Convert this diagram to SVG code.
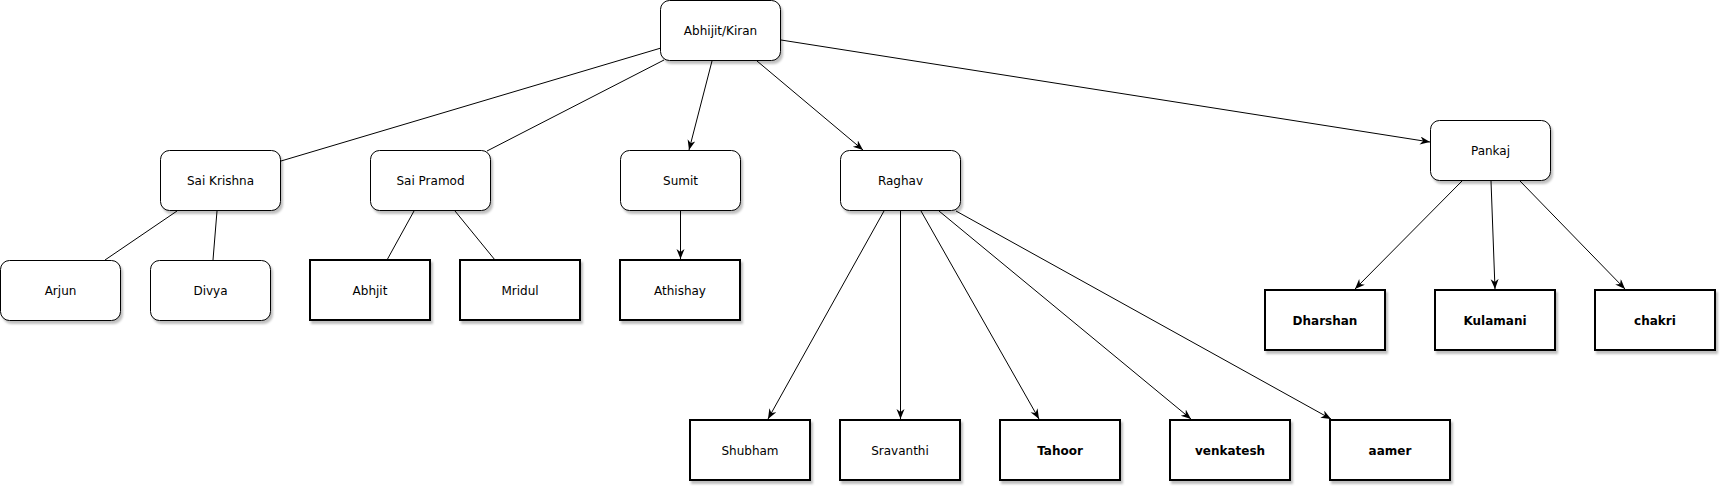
<svg xmlns="http://www.w3.org/2000/svg" width="1720" height="486" viewBox="0 0 1720 486">
<defs>
<filter id="sh" x="-10%" y="-10%" width="130%" height="140%">
<feDropShadow dx="2" dy="3" stdDeviation="1" flood-color="#000" flood-opacity="0.25"/>
</filter>
<marker id="arr" markerUnits="userSpaceOnUse" markerWidth="12" markerHeight="10" refX="10" refY="4" orient="auto">
<path d="M0,0 L10,4 L0,8 L3,4 Z" fill="#000"/>
</marker>
<style>
.r{fill:#fff;stroke:#000;stroke-width:1;filter:url(#sh)}
.b{fill:#fff;stroke:#000;stroke-width:2;filter:url(#sh)}
.t{font-family:"DejaVu Sans",Verdana,sans-serif;font-size:12px;text-anchor:middle;fill:#000}
.tb{font-weight:bold}
.c line{stroke:#000;stroke-width:1;fill:none}
.c line.a{marker-end:url(#arr)}
</style>
</defs>
<rect width="1720" height="486" fill="#fff"/>
<g class="c" id="connectors">
<line x1="661" y1="48" x2="281" y2="161"/>
<line x1="664" y1="60" x2="487" y2="151"/>
<line class="a" x1="712" y1="61" x2="689" y2="150"/>
<line class="a" x1="757" y1="61" x2="863" y2="150"/>
<line class="a" x1="781" y1="40" x2="1430" y2="142"/>
<line x1="177" y1="211" x2="105" y2="260"/>
<line x1="217" y1="211" x2="213" y2="260"/>
<line x1="414" y1="211" x2="387" y2="260"/>
<line x1="455" y1="211" x2="495" y2="260"/>
<line class="a" x1="680.5" y1="211" x2="680.5" y2="259"/>
<line class="a" x1="884" y1="211" x2="768" y2="419"/>
<line class="a" x1="900.5" y1="211" x2="900.5" y2="419"/>
<line class="a" x1="921" y1="211" x2="1039" y2="419"/>
<line class="a" x1="939" y1="211" x2="1191" y2="419"/>
<line class="a" x1="956" y1="211" x2="1331" y2="419"/>
<line class="a" x1="1462" y1="181" x2="1355" y2="289"/>
<line class="a" x1="1491" y1="181" x2="1495" y2="289"/>
<line class="a" x1="1520" y1="181" x2="1625" y2="289"/>
</g>
<g id="n-abhijit-kiran"><rect class="r" x="660.5" y="0.5" width="120" height="60" rx="9"/><text class="t" x="720.5" y="35">Abhijit/Kiran</text></g>
<g id="n-sai-krishna"><rect class="r" x="160.5" y="150.5" width="120" height="60" rx="9"/><text class="t" x="220.5" y="185">Sai Krishna</text></g>
<g id="n-sai-pramod"><rect class="r" x="370.5" y="150.5" width="120" height="60" rx="9"/><text class="t" x="430.5" y="185">Sai Pramod</text></g>
<g id="n-sumit"><rect class="r" x="620.5" y="150.5" width="120" height="60" rx="9"/><text class="t" x="680.5" y="185">Sumit</text></g>
<g id="n-raghav"><rect class="r" x="840.5" y="150.5" width="120" height="60" rx="9"/><text class="t" x="900.5" y="185">Raghav</text></g>
<g id="n-pankaj"><rect class="r" x="1430.5" y="120.5" width="120" height="60" rx="9"/><text class="t" x="1490.5" y="155">Pankaj</text></g>
<g id="n-arjun"><rect class="r" x="0.5" y="260.5" width="120" height="60" rx="9"/><text class="t" x="60.5" y="295">Arjun</text></g>
<g id="n-divya"><rect class="r" x="150.5" y="260.5" width="120" height="60" rx="9"/><text class="t" x="210.5" y="295">Divya</text></g>
<g id="n-abhjit"><rect class="b" x="310" y="260" width="120" height="60"/><text class="t" x="370" y="295">Abhjit</text></g>
<g id="n-mridul"><rect class="b" x="460" y="260" width="120" height="60"/><text class="t" x="520" y="295">Mridul</text></g>
<g id="n-athishay"><rect class="b" x="620" y="260" width="120" height="60"/><text class="t" x="680" y="295">Athishay</text></g>
<g id="n-dharshan"><rect class="b" x="1265" y="290" width="120" height="60"/><text class="t tb" x="1325" y="325">Dharshan</text></g>
<g id="n-kulamani"><rect class="b" x="1435" y="290" width="120" height="60"/><text class="t tb" x="1495" y="325">Kulamani</text></g>
<g id="n-chakri"><rect class="b" x="1595" y="290" width="120" height="60"/><text class="t tb" x="1655" y="325">chakri</text></g>
<g id="n-shubham"><rect class="b" x="690" y="420" width="120" height="60"/><text class="t" x="750" y="455">Shubham</text></g>
<g id="n-sravanthi"><rect class="b" x="840" y="420" width="120" height="60"/><text class="t" x="900" y="455">Sravanthi</text></g>
<g id="n-tahoor"><rect class="b" x="1000" y="420" width="120" height="60"/><text class="t tb" x="1060" y="455">Tahoor</text></g>
<g id="n-venkatesh"><rect class="b" x="1170" y="420" width="120" height="60"/><text class="t tb" x="1230" y="455">venkatesh</text></g>
<g id="n-aamer"><rect class="b" x="1330" y="420" width="120" height="60"/><text class="t tb" x="1390" y="455">aamer</text></g>
</svg>
